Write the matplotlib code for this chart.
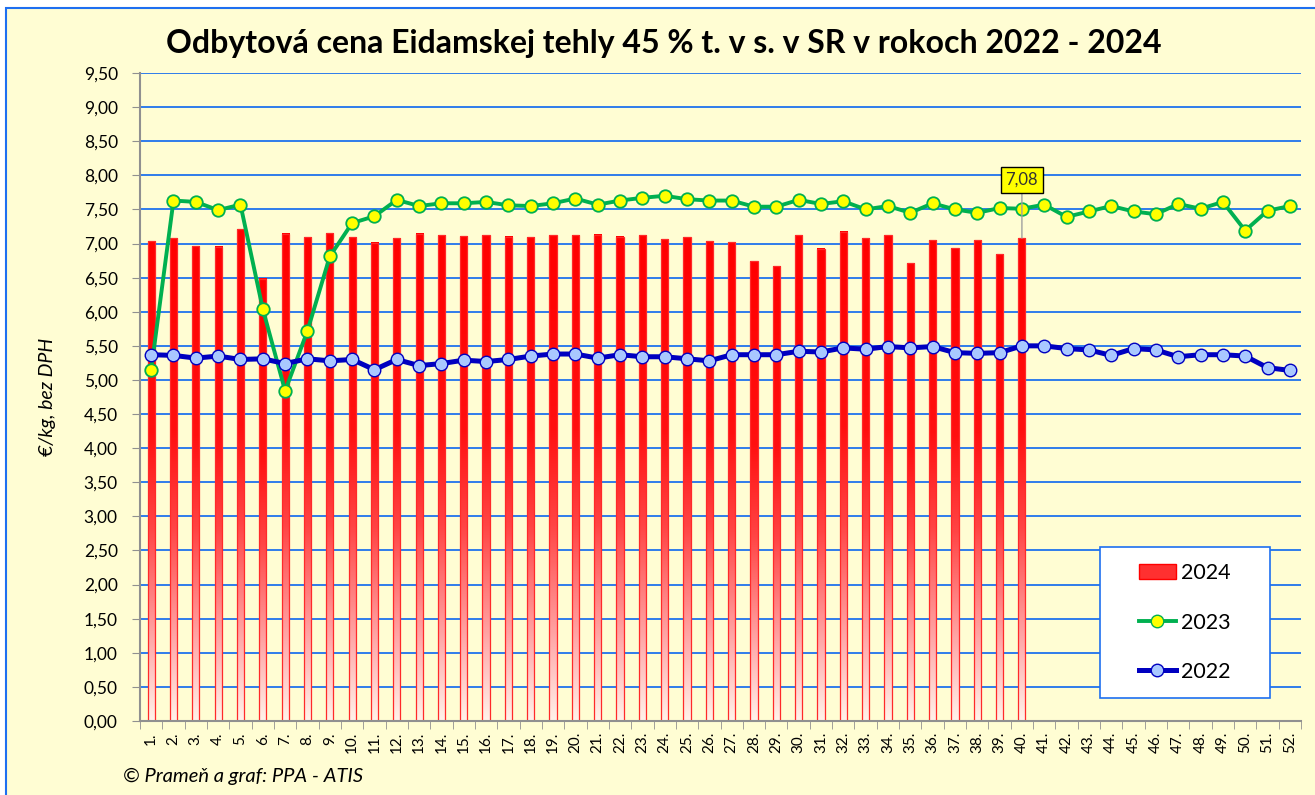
import matplotlib.pyplot as plt
import numpy as np
from matplotlib.colors import LinearSegmentedColormap
from matplotlib.lines import Line2D
from matplotlib.patches import Patch, Rectangle

plt.rcParams['font.family'] = ['Lato', 'DejaVu Sans']

# weeks 1..52
weeks = np.arange(1, 53)
week_labels = [f'{w}.' for w in weeks]

# 2024 (bars, weeks 1..40)
y2024 = [7.03, 7.08, 6.96, 6.95, 7.21, 6.48, 7.14, 7.09, 7.15, 7.09,
         7.01, 7.08, 7.14, 7.12, 7.11, 7.12, 7.10, 7.09, 7.12, 7.12,
         7.13, 7.10, 7.12, 7.06, 7.09, 7.03, 7.02, 6.74, 6.67, 7.12,
         6.92, 7.17, 7.08, 7.12, 6.71, 7.05, 6.93, 7.05, 6.84, 7.08]

# 2023
y2023 = [5.15, 7.63, 7.61, 7.49, 7.57, 6.04, 4.84, 5.72, 6.81, 7.30,
         7.40, 7.64, 7.55, 7.59, 7.59, 7.61, 7.56, 7.55, 7.59, 7.66,
         7.57, 7.63, 7.67, 7.70, 7.65, 7.63, 7.63, 7.54, 7.54, 7.64,
         7.58, 7.62, 7.50, 7.55, 7.45, 7.59, 7.50, 7.45, 7.52, 7.51,
         7.57, 7.39, 7.47, 7.55, 7.47, 7.43, 7.58, 7.51, 7.61, 7.19,
         7.48, 7.55]

# 2022
y2022 = [5.37, 5.36, 5.32, 5.35, 5.30, 5.31, 5.24, 5.31, 5.28, 5.30,
         5.15, 5.30, 5.21, 5.24, 5.29, 5.27, 5.30, 5.35, 5.38, 5.38,
         5.32, 5.37, 5.34, 5.34, 5.31, 5.28, 5.37, 5.37, 5.37, 5.42,
         5.41, 5.47, 5.45, 5.49, 5.47, 5.49, 5.40, 5.39, 5.40, 5.50,
         5.50, 5.46, 5.44, 5.36, 5.46, 5.44, 5.34, 5.37, 5.37, 5.35,
         5.18, 5.14]

bg = '#FFFDD3'
fig = plt.figure(figsize=(13.15, 7.95), dpi=100)
fig.patch.set_facecolor('white')
# chart frame
fig.patches.append(Rectangle((6 / 1315, -0.01), 1.02, 1 - 8 / 795 + 0.01,
                             transform=fig.transFigure, facecolor=bg,
                             edgecolor='#1E6FF0', lw=1.5, zorder=-1))

ax = fig.add_axes([140 / 1315, 1 - 721 / 795, 1161 / 1315, 648 / 795])
ax.set_facecolor(bg)

# gradient bars
cmap = LinearSegmentedColormap.from_list(
    'redgrad', [(0, '#FFF2EA'), (0.15, '#FFB0B0'), (0.4, '#FF4545'),
                (0.6, '#FF1010'), (1, '#FF0000')])
grad = np.linspace(0, 1, 256).reshape(-1, 1)
w = 0.32
for x, v in zip(weeks[:len(y2024)], y2024):
    ax.imshow(grad, extent=[x - w / 2, x + w / 2, 0, v], cmap=cmap,
              aspect='auto', origin='lower', zorder=2)
ax.bar(weeks[:len(y2024)], y2024, w, facecolor='none', edgecolor='#FF2A2A',
       lw=0.9, zorder=2.1)

ax.plot(weeks, y2023, color='#00B050', lw=2.8, marker='o', ms=9,
        mfc='#FFFF00', mec='#00B050', mew=1.3, zorder=3)
ax.plot(weeks, y2022, color='#0000C0', lw=3.6, marker='o', ms=9,
        mfc='#A9C8FF', mec='#0000C0', mew=1.0, zorder=4)

# data label for last 2024 week
ax.annotate('7,08', xy=(40, y2024[-1]), xytext=(40, 7.93),
            ha='center', va='center', fontsize=12, color='#333333',
            bbox=dict(boxstyle='square,pad=0.3', fc='#FFFF00', ec='black', lw=1),
            arrowprops=dict(arrowstyle='-', color='#A0A0A0', lw=1,
                            shrinkA=0, shrinkB=0), zorder=6)

ax.set_xlim(0.5, 52.5)
ax.set_ylim(0, 9.5)
yt = np.arange(0, 9.51, 0.5)
ax.set_yticks(yt)
ax.set_yticklabels([f'{t:.2f}'.replace('.', ',') for t in yt], fontsize=12.5)
ax.yaxis.grid(True, color='#2F7CEB', lw=1.4, zorder=1)
ax.set_axisbelow(True)
ax.set_xticks(weeks)
ax.set_xticklabels(week_labels, rotation=90, fontsize=11)
ax.set_xticks(np.arange(0.5, 53, 1), minor=True)
ax.tick_params(axis='x', which='major', length=0, pad=8)
ax.tick_params(axis='x', which='minor', length=6, color='#909090')
ax.tick_params(axis='y', length=6, color='#909090', pad=10)
for s in ['top', 'right']:
    ax.spines[s].set_visible(False)
for s in ['left', 'bottom']:
    ax.spines[s].set_color('#909090')
    ax.spines[s].set_linewidth(1.5)

ax.set_ylabel('€/kg, bez DPH', fontsize=14, style='italic', labelpad=20)

fig.text(0.505, 0.945, 'Odbytová cena Eidamskej tehly 45 % t. v s. v SR v rokoch 2022 - 2024',
         ha='center', va='center', fontsize=23, fontweight='bold')
fig.text(123 / 1315, 1 - 776 / 795, '© Prameň a graf: PPA - ATIS',
         ha='left', va='center', fontsize=14.5, style='italic')

# legend box
ax.add_patch(Rectangle((0.827, 0.0355), 0.146, 0.233, transform=ax.transAxes,
                       facecolor='white', edgecolor='#1E6FF0', lw=1.2, zorder=5))
handles = [
    Patch(facecolor='#FF3030', edgecolor='#FF0000'),
    Line2D([], [], color='#00B050', lw=2.8, marker='o', ms=9,
           mfc='#FFFF00', mec='#00B050'),
    Line2D([], [], color='#0000C0', lw=3.6, marker='o', ms=9,
           mfc='#A9C8FF', mec='#0000C0'),
]
leg = ax.legend(handles, ['2024', '2023', '2022'], loc='center',
                bbox_to_anchor=(0.9, 0.152), frameon=False, fontsize=15.5,
                labelspacing=1.35, handlelength=1.7, handletextpad=0.25)
leg.set_zorder(6)

fig.savefig('out.png', dpi=100, facecolor=fig.get_facecolor())
